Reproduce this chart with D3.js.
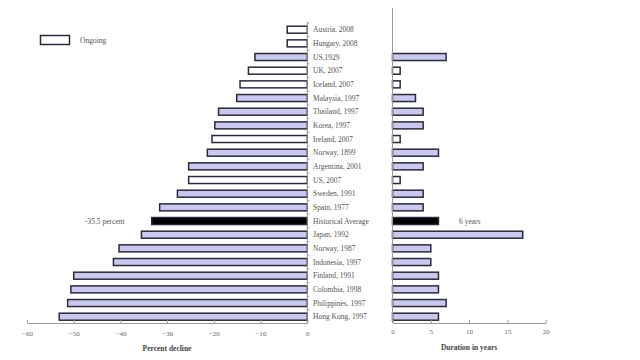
<!DOCTYPE html>
<html><head><meta charset="utf-8">
<script src="https://cdn.jsdelivr.net/npm/d3@7"></script>
<style>body{margin:0;background:#fff}svg{display:block}</style>
</head><body>
<svg id="c" width="640" height="360"></svg>
<script>
const categories = ["Austria, 2008","Hungary, 2008","US,1929","UK, 2007","Iceland, 2007","Malaysia, 1997","Thailand, 1997","Korea, 1997","Ireland, 2007","Norway, 1899","Argentina, 2001","US, 2007","Sweden, 1991","Spain, 1977","Historical Average","Japan, 1992","Norway, 1987","Indonesia, 1997","Finland, 1991","Colombia, 1998","Philippines, 1997","Hong Kong, 1997"];
const declines = [-4.3,-4.3,-11.2,-12.6,-14.4,-15.1,-19.0,-19.8,-20.4,-21.4,-25.4,-25.4,-27.8,-31.6,-33.3,-35.5,-40.3,-41.5,-50.0,-50.6,-51.3,-53.1];
const durations = [0,0,7,1,1,3,4,4,1,6,4,1,4,4,6,17,5,5,6,6,7,6];
const kinds = ["ongoing","ongoing","past","ongoing","ongoing","past","past","past","ongoing","past","past","ongoing","past","past","average","past","past","past","past","past","past","past"];
const leftTicks = [-60,-50,-40,-30,-20,-10,0];
const rightTicks = [0,5,10,15,20];
const avgLabelLeft = "-35.5 percent";
const avgLabelRight = "6 years";

const svg = d3.select("#c");
const font = "Liberation Serif, Times New Roman, serif";
const fill = {ongoing:"#ffffff", past:"#c9c9ef", average:"#000000"};
const y = d3.scalePoint().domain(categories).range([29.7, 316.7]);
const xl = d3.scaleLinear().domain([-60,0]).range([27,307.3]);
const xr = d3.scaleLinear().domain([0,20]).range([392.5,545.7]);
const bh = 7;
const data = categories.map((c,i)=>({c, d:declines[i], t:durations[i], k:kinds[i]}));

// left bars
svg.append("g").selectAll("rect").data(data).join("rect")
  .attr("x", d=>xl(d.d)).attr("y", d=>y(d.c)-bh/2)
  .attr("width", d=>xl(0)-xl(d.d)).attr("height", bh)
  .attr("fill", d=>fill[d.k]).attr("stroke","#2a2a3a").attr("stroke-width",1.5);
// right bars
svg.append("g").selectAll("rect").data(data.filter(d=>d.t>0)).join("rect")
  .attr("x", xr(0)).attr("y", d=>y(d.c)-bh/2)
  .attr("width", d=>xr(d.t)-xr(0)).attr("height", bh)
  .attr("fill", d=>fill[d.k]).attr("stroke","#2a2a3a").attr("stroke-width",1.5);

// axes
const axL = svg.append("g").attr("transform","translate(0,323)")
  .call(d3.axisBottom(xl).tickValues(leftTicks).tickSize(-3).tickSizeOuter(0).tickPadding(8));
const axR = svg.append("g").attr("transform","translate(0,323)")
  .call(d3.axisBottom(xr).tickValues(rightTicks).tickSize(-3).tickSizeOuter(0).tickPadding(6));
[axL,axR].forEach(a=>{
  a.select(".domain").attr("stroke","#999");
  a.selectAll(".tick line").attr("stroke","#999");
  a.selectAll("text").attr("font-family",font).attr("font-size",7).attr("fill","#666");
});
// vertical axis lines
svg.append("line").attr("x1",xl(0)).attr("x2",xl(0)).attr("y1",22).attr("y2",323).attr("stroke","#999");
svg.append("line").attr("x1",xr(0)).attr("x2",xr(0)).attr("y1",8).attr("y2",323).attr("stroke","#999");
const step = y.step();
svg.append("g").selectAll("line").data(categories).join("line")
  .attr("x1",xl(0)).attr("x2",xl(0)+2)
  .attr("y1",d=>y(d)-step/2).attr("y2",d=>y(d)-step/2).attr("stroke","#999");

// category labels
svg.append("g").selectAll("text").data(categories).join("text")
  .attr("x",313).attr("y",d=>y(d)).attr("dy","0.35em")
  .attr("font-family",font).attr("font-size",7.5).attr("fill","#555").text(d=>d);

// axis titles
svg.append("text").attr("x",167).attr("y",351).attr("text-anchor","middle")
  .attr("font-family",font).attr("font-size",7.5).attr("font-weight","bold").attr("fill","#444").text("Percent decline");
svg.append("text").attr("x",469).attr("y",350).attr("text-anchor","middle")
  .attr("font-family",font).attr("font-size",7.5).attr("font-weight","bold").attr("fill","#444").text("Duration in years");

// average labels
const ya = y("Historical Average");
svg.append("text").attr("x",85).attr("y",ya).attr("dy","0.35em")
  .attr("font-family",font).attr("font-size",7.5).attr("fill","#555").text(avgLabelLeft);
svg.append("text").attr("x",459).attr("y",ya).attr("dy","0.35em")
  .attr("font-family",font).attr("font-size",7.5).attr("fill","#555").text(avgLabelRight);

// legend
svg.append("rect").attr("x",40.5).attr("y",35.5).attr("width",29).attr("height",9)
  .attr("fill","#fff").attr("stroke","#2a2a3a").attr("stroke-width",1.5);
svg.append("text").attr("x",80).attr("y",40.5).attr("dy","0.35em")
  .attr("font-family",font).attr("font-size",7.5).attr("fill","#555").text("Ongoing");
</script>
</body></html>
